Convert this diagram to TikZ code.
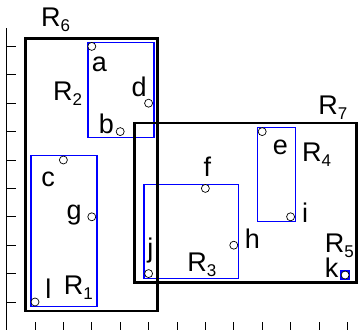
\documentclass[tikz,border=0pt]{standalone}
\usepackage{fontspec}
\setmainfont{Liberation Sans}
\usetikzlibrary{positioning}
\definecolor{leafblue}{rgb}{0,0,1}
\newcommand{\subidx}[1]{\raisebox{-5pt}{\fontsize{17}{20}\selectfont #1}}

\begin{document}
\begin{tikzpicture}[
    x=28.4pt, y=28.4pt,
    pt/.style={
        circle, draw, fill=white,
        inner sep=0pt, minimum size=8pt, line width=0.7pt
    },
    lbl/.style={anchor=base west, inner sep=0pt, font=\fontsize{27}{30}\selectfont},
    leaf/.style={draw=leafblue, line width=1.4pt},
    group/.style={draw=black, line width=2.6pt},
    axis/.style={line width=0.8pt}
]
\useasboundingbox (-0.232,0.014) rectangle (12.55,11.634);

\draw[axis] (0,-0.1) -- (0,10.65);
\foreach \y in {1,...,10} \draw[axis] (0,\y) -- (0.32,\y);
\foreach \x in {1,...,12} \draw[axis] (\x,-0.1) -- (\x,0.3);

\draw[leaf] (0.86,0.835) rectangle (3.18,6.15);
\draw[leaf] (2.86,6.80) rectangle (5.19,10.14);
\draw[leaf] (4.84,1.82) rectangle (8.17,5.14);
\draw[leaf] (8.83,3.83) rectangle (10.17,7.15);
\draw[leaf] (11.78,1.81) rectangle (12.06,2.09);

\draw[group] (0.665,0.683) rectangle (5.313,10.285);
\draw[group] (4.50,1.687) rectangle (12.32,7.30);

\node[pt] (a) at (3,10)        {};
\node[pt] (b) at (4,7)         {};
\node[pt] (c) at (2,6)         {};
\node[pt] (d) at (5,8)         {};
\node[pt] (e) at (9,7)         {};
\node[pt] (f) at (7,5)         {};
\node[pt] (g) at (3,4)         {};
\node[pt] (h) at (8,3)         {};
\node[pt] (i) at (10,4)        {};
\node[pt] (j) at (5,2)         {};
\node[pt] (k) at (11.92,1.95)  {};
\node[pt] (l) at (1,1)         {};

\node[lbl] (a-lbl) at (3.00,9.11)  {a};
\node[lbl] (b-lbl) at (3.24,6.95)  {b};
\node[lbl] (c-lbl) at (1.22,5.06)  {c};
\node[lbl] (d-lbl) at (4.40,8.23)  {d};
\node[lbl] (e-lbl) at (9.37,6.18)  {e};
\node[lbl] (f-lbl) at (6.93,5.41)  {f};
\node[lbl] (g-lbl) at (2.11,3.89)  {g};
\node[lbl] (h-lbl) at (8.38,2.89)  {h};
\node[lbl] (i-lbl) at (10.40,3.79) {i};
\node[lbl] (j-lbl) at (4.95,2.55)  {j};
\node[lbl] (k-lbl) at (11.20,1.85) {k};
\node[lbl] (l-lbl) at (1.36,1.11)  {l};

\node[lbl] (R1-lbl) at (2.01,1.28)  {R\subidx{1}};
\node[lbl] (R2-lbl) at (1.63,8.11)  {R\subidx{2}};
\node[lbl] (R3-lbl) at (6.36,2.07)  {R\subidx{3}};
\node[lbl] (R4-lbl) at (10.40,5.94) {R\subidx{4}};
\node[lbl] (R5-lbl) at (11.20,2.75) {R\subidx{5}};
\node[lbl] (R6-lbl) at (1.21,10.69) {R\subidx{6}};
\node[lbl] (R7-lbl) at (10.97,7.59) {R\subidx{7}};
\end{tikzpicture}
\end{document}
